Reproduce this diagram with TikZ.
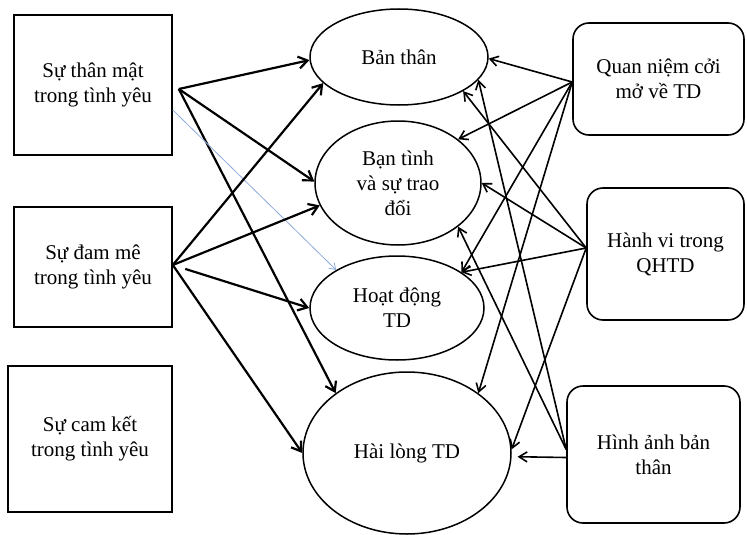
\documentclass[tikz,border=0pt]{standalone}
\usepackage{fontspec}
\setmainfont{Liberation Serif}
\usetikzlibrary{arrows.meta,shapes.geometric}
\definecolor{lnblue}{RGB}{143,170,220}

\tikzset{
  sqbox/.style={rectangle, draw, line width=1.6pt, align=center},
  rdbox/.style={rectangle, rounded corners=16pt, draw, line width=1.6pt, align=center},
  oval/.style={ellipse, draw, line width=1.5pt, align=center, inner sep=0pt},
  thk/.style={line width=2.2pt, -{Straight Barb[length=9pt,width=12pt]}},
  thn/.style={line width=1.6pt, -{Straight Barb[length=8pt,width=10pt]}},
  blu/.style={line width=0.8pt, lnblue, -{Straight Barb[length=6pt,width=8pt]}},
}

\begin{document}
\begin{tikzpicture}[x=1pt, y=-1pt, font=\fontsize{21}{25}\selectfont]
  \useasboundingbox (0,0) rectangle (747,535);

  % left boxes
  \node[sqbox, minimum width=158pt, minimum height=140pt] (thanmat) at (93,85) {Sự thân mật\\trong tình yêu};
  \node[sqbox, minimum width=158pt, minimum height=120pt] (dammme) at (93,267) {Sự đam mê\\trong tình yêu};
  \node[sqbox, minimum width=164pt, minimum height=146pt] (camket) at (90,439) {Sự cam kết\\trong tình yêu};

  % middle ellipses
  \node[oval, minimum width=178pt, minimum height=96pt] (banthan) at (399,57) {Bản thân};
  \node[oval, minimum width=166pt, minimum height=124pt] (bantinh) at (398,183) {Bạn tình\\và sự trao\\đổi};
  \node[oval, minimum width=174pt, minimum height=104pt] (hoatdong) at (397,308) {Hoạt động\\TD};
  \node[oval, minimum width=208pt, minimum height=162pt] (hailong) at (407,453) {Hài lòng TD};

  % right boxes
  \node[rdbox, minimum width=171pt, minimum height=112pt] (quanniem) at (658.5,79) {Quan niệm cởi\\mở về TD};
  \node[rdbox, minimum width=157pt, minimum height=132pt] (hanhvi) at (665.5,254) {Hành vi trong\\QHTD};
  \node[rdbox, minimum width=173pt, minimum height=137pt] (hinhanh) at (653.5,454.5) {Hình ảnh bản\\thân};

  \coordinate (tm) at ([xshift=6pt,yshift=-4pt]thanmat.east);
  \coordinate (dm) at ([yshift=2pt]dammme.east);
  \coordinate (qn) at ([yshift=-3pt]quanniem.west);
  \coordinate (hv) at ([yshift=6pt]hanhvi.west);
  \coordinate (ha) at ([yshift=5pt]hinhanh.west);

  % from the left
  \draw[thk] (tm) -- (banthan.182);
  \draw[thk] (tm) -- (bantinh.179);
  \draw[thk] (tm) -- (hailong.140);
  \draw[blu] ([yshift=-25pt]thanmat.east) -- (hoatdong.148);
  \draw[thk] (dm) -- (banthan.199);
  \draw[thk] (dm) -- (bantinh.196);
  \draw[thk, shorten <=13pt] (dm) -- (hoatdong.180);
  \draw[thk] (dm) -- (hailong.180);

  % from the right
  \draw[thn] (qn) -- (banthan.359);
  \draw[thn] (qn) -- (bantinh.36);
  \draw[thn] (qn) -- (hoatdong.29);
  \draw[thn] (qn) -- (hailong.40);
  \draw[thn] (hv) -- (banthan.332);
  \draw[thn] (hv) -- (bantinh.0);
  \draw[thn] (hv) -- (hoatdong.29);
  \draw[thn] (hv) -- (hailong.2);
  \draw[thn] (ha) -- (banthan.344);
  \draw[thn] (ha) -- (bantinh.324);
  \draw[thn, shorten >=6pt] ([yshift=-3pt]hinhanh.west) -- (hailong.358);
\end{tikzpicture}
\end{document}
